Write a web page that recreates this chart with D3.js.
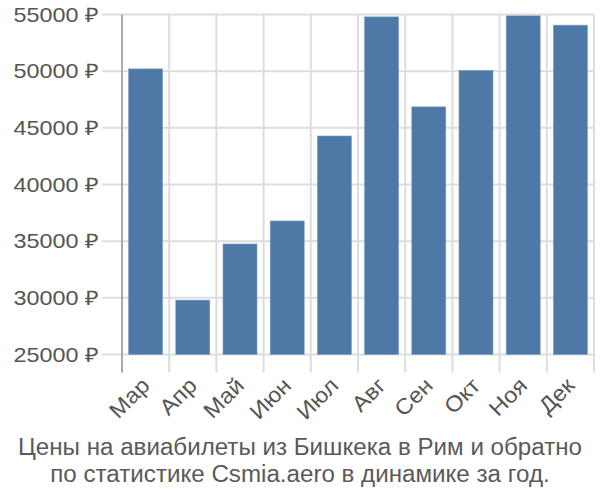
<!DOCTYPE html>
<html><head><meta charset="utf-8">
<script src="https://cdn.jsdelivr.net/npm/d3@7"></script>
<style>body{margin:0;background:#fff}text{font-family:"Liberation Sans",Arial,sans-serif}</style>
</head><body><svg id="c" width="600" height="500"></svg>
<script>
const months = ["Мар","Апр","Май","Июн","Июл","Авг","Сен","Окт","Ноя","Дек"];
const prices = [50200,29800,34750,36780,44280,54790,46850,50060,54880,54060];
const yTicks = [25000,30000,35000,40000,45000,50000,55000];
const titleLines = ["Цены на авиабилеты из Бишкека в Рим и обратно","по статистике Csmia.aero в динамике за год."];

const svg = d3.select("#c");
const L=122, R=594, T=14.5, B=354.5;
const x = d3.scaleBand().domain(months).range([L,R]).paddingInner(0.28).paddingOuter(0.14);
const y = d3.scaleLinear().domain([25000,55000]).range([B,T]);
const bw = x.step();

svg.append("g").selectAll("line").data(yTicks).join("line")
  .attr("x1",L-20).attr("x2",R).attr("y1",d=>y(d)).attr("y2",d=>y(d))
  .attr("stroke","#dddddd").attr("stroke-width",2);
const bounds = d3.range(months.length+1).map(i=>L+i*bw);
svg.append("g").selectAll("line").data(bounds).join("line")
  .attr("x1",d=>d).attr("x2",d=>d).attr("y1",T).attr("y2",B+18)
  .attr("stroke","#dddddd").attr("stroke-width",2);
svg.append("line").attr("x1",L).attr("x2",L).attr("y1",T).attr("y2",B+18)
  .attr("stroke","#aaaaaa").attr("stroke-width",2);

svg.append("g").selectAll("rect").data(prices).join("rect")
  .attr("x",(d,i)=>x(months[i])).attr("width",x.bandwidth())
  .attr("y",d=>y(d)).attr("height",d=>B-y(d))
  .attr("fill","#4e79a7").attr("stroke","#7b9cc2").attr("stroke-width",0.6);

svg.append("g").selectAll("text").data(yTicks).join("text")
  .attr("transform",d=>`translate(${L-23},${y(d)}) scale(1.17,1)`)
  .attr("dy","0.35em").attr("text-anchor","end")
  .attr("font-size",20).attr("fill","#555").text(d=>d+" ₽");

svg.append("g").selectAll("text").data(months).join("text")
  .attr("transform",d=>`translate(${x(d)+x.bandwidth()/2},${B+27}) rotate(-45) scale(1.08,1)`)
  .attr("text-anchor","end").attr("dy","0.35em")
  .attr("font-size",22).attr("fill","#555").text(d=>d);

svg.append("g").selectAll("text").data(titleLines).join("text")
  .attr("transform",(d,i)=>`translate(300,${455+i*27}) scale(1.05,1)`)
  .attr("text-anchor","middle")
  .attr("font-size",23).attr("fill","#5a5a5a").text(d=>d);
</script></body></html>
